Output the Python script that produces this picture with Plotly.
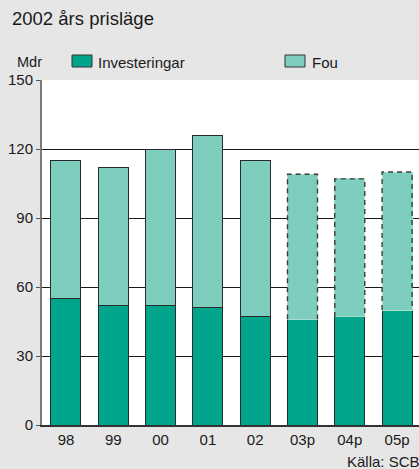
import plotly.graph_objects as go

categories = ["98", "99", "00", "01", "02", "03p", "04p", "05p"]
investeringar = [55, 52, 52, 51, 47, 46, 47, 50]
fou = [60, 60, 68, 75, 68, 63, 60, 60]
projected = [False, False, False, False, False, True, True, True]
y_ticks = [0, 30, 60, 90, 120, 150]

W, H = 419, 469
L, R, T, B = 42, 0, 80, 44
PW, PH = W - L - R, H - T - B

def px(x):
    return (x - L) / PW

def py(y):
    return (H - B - y) / PH

dark = "#00a58b"
light = "#7ecebf"
edge = "#2a2a2a"
bw = 0.634

xs = list(range(len(categories)))
fig = go.Figure()
fig.add_trace(go.Bar(x=xs, y=investeringar, name="Investeringar", width=bw,
                     marker=dict(color=dark, line=dict(color=edge, width=1))))
fig.add_trace(go.Bar(x=xs, y=fou, name="Fou", width=bw,
                     marker=dict(color=light,
                                 line=dict(color=[("#a8dccf" if p else edge) for p in projected], width=1))))

# dashed outlines for projected values
lx, ly = [], []
for i, p in enumerate(projected):
    if p:
        tot = investeringar[i] + fou[i]
        lx += [i - bw / 2, i - bw / 2, i + bw / 2, i + bw / 2, None]
        ly += [investeringar[i], tot, tot, investeringar[i], None]
fig.add_trace(go.Scatter(x=lx, y=ly, mode="lines", showlegend=False, hoverinfo="skip",
                         line=dict(color="#3a3a3a", width=1.4, dash="5px,4px")))

font = "Liberation Sans"
x0 = -0.507
fig.update_layout(
    width=W, height=H, barmode="stack", showlegend=False,
    margin=dict(l=L, r=R, t=T, b=B, pad=0),
    paper_bgcolor="#e6e6e6", plot_bgcolor="white",
    font=dict(family=font, size=15, color="#1a1a1a"),
    xaxis=dict(range=[x0, x0 + PW / 47.3], tickvals=xs, ticktext=categories,
               showgrid=False, showline=True, linecolor="#333333", linewidth=1.5,
               ticks="", zeroline=False, tickfont=dict(size=15)),
    yaxis=dict(range=[0, 150], tickvals=y_ticks, showgrid=True, gridcolor="#1a1a1a",
               gridwidth=1, showline=True, linecolor="#7a7a7a", linewidth=2,
               ticks="outside", ticklen=4, tickcolor="#555555", zeroline=False,
               tickfont=dict(size=15)),
)

anns = [
    dict(text="Realinvesteringar och FoU", x=px(4), y=py(-12), size=21, bold=True),
    dict(text="2002 års prisläge", x=px(10), y=py(18), size=18.5),
    dict(text="Mdr", x=px(15), y=py(62), size=14.5),
    dict(text="Investeringar", x=px(96), y=py(62), size=15),
    dict(text="Fou", x=px(310), y=py(62), size=15),
    dict(text="Källa: SCB", x=px(345), y=py(461), size=15),
]
for a in anns:
    t = f"<b>{a['text']}</b>" if a.get("bold") else a["text"]
    fig.add_annotation(text=t, x=a["x"], y=a["y"], xref="paper", yref="paper",
                       xanchor="left", yanchor="middle", showarrow=False,
                       font=dict(size=a["size"], family=font, color="#1a1a1a"))

for x1, col in [(72, dark), (285, light)]:
    fig.add_shape(type="rect", xref="paper", yref="paper",
                  x0=px(x1), x1=px(x1 + 20), y0=py(67), y1=py(55),
                  fillcolor=col, line=dict(color="#333333", width=1))

fig.write_html("out.html", config={"displayModeBar": False},
               post_script="document.body.style.margin='0';document.body.style.overflow='hidden';document.body.style.background='#e6e6e6';")
